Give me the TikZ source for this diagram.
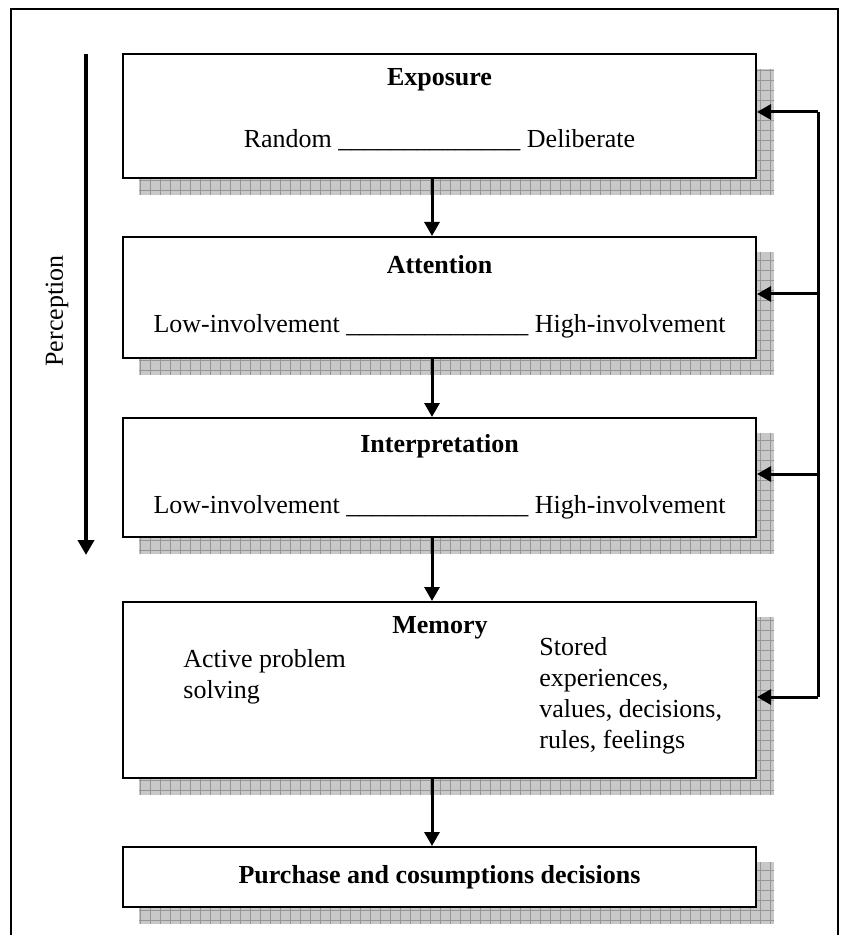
\documentclass[tikz,border=0pt]{standalone}
\usepackage{fontspec}
\setmainfont{Liberation Serif}
\usetikzlibrary{arrows.meta,positioning,calc,backgrounds}
\definecolor{shd}{RGB}{200,200,200}
\definecolor{shdgrid}{RGB}{150,150,150}
\newcommand{\gapline}{\_\_\_\_\_\_\_\_\_\_\_\_\_\_}

\begin{document}
\begin{tikzpicture}[x=0.5pt,y=-0.5pt,
  box/.style={draw=black,line width=1pt,fill=white,minimum width=316.5pt,inner sep=0pt},
  ttl/.style={font=\fontsize{13}{15.5}\selectfont\bfseries,inner sep=0pt},
  txt/.style={font=\fontsize{13}{15.5}\selectfont,inner sep=0pt,align=left},
  a/.style={-{Triangle[length=7pt,width=7.5pt]},line width=1.5pt},
  pa/.style={-{Triangle[length=7.5pt,width=8pt]},line width=2.2pt}]
 \useasboundingbox (0,0) rectangle (842,935);
 \draw[line width=0.8pt] (11,935) -- (11,9) -- (838,9) -- (838,935);
 % boxes
 \node[box,minimum height=62pt] (ex) at (439.5,116) {};
 \node[box,minimum height=60.5pt] (att) at (439.5,297.5) {};
 \node[box,minimum height=59.5pt] (intp) at (439.5,477.5) {};
 \node[box,minimum height=88pt] (mem) at (439.5,690) {};
 \node[box,minimum height=30pt] (pur) at (439.5,877) {};
 % shadows
 \begin{scope}[on background layer]
  \foreach \b in {ex,att,intp,mem,pur}{
   \begin{scope}
    \clip ([xshift=8.5pt,yshift=-8pt]\b.south west) rectangle ([xshift=8.5pt,yshift=-8pt]\b.north east);
    \fill[shd] ([xshift=8.5pt,yshift=-8pt]\b.south west) rectangle ([xshift=8.5pt,yshift=-8pt]\b.north east);
    \draw[shdgrid,line width=0.3pt,step=5pt] ([xshift=8.5pt,yshift=-8pt]\b.south west) grid ([xshift=8.5pt,yshift=-8pt]\b.north east);
   \end{scope}}
 \end{scope}
 % texts
 \node[ttl] (exT) at (439.5,80) {Exposure};
 \node[txt] (exL) at (439.5,140) {Random \gapline{} Deliberate};
 \node[ttl] (attT) at (439.5,265) {Attention};
 \node[txt] (attL) at (439.5,326) {Low-involvement \gapline{} High-involvement};
 \node[ttl] (intpT) at (439.5,446) {Interpretation};
 \node[txt] (intpL) at (439.5,507) {Low-involvement \gapline{} High-involvement};
 \node[ttl] (memT) at (440,628) {Memory};
 \node[txt,anchor=west] (memA) at (183,677) {Active problem\\solving};
 \node[txt,anchor=west] (memS) at (539,696) {Stored\\experiences,\\values, decisions,\\rules, feelings};
 \node[ttl] (purT) at (439.5,877) {Purchase and cosumptions decisions};
 % flow
 \draw[a] ([xshift=-3.75pt]ex.south) -- ([xshift=-3.75pt]att.north);
 \draw[a] ([xshift=-3.75pt]att.south) -- ([xshift=-3.75pt]intp.north);
 \draw[a] ([xshift=-3.75pt]intp.south) -- ([xshift=-3.75pt]mem.north);
 \draw[a] ([xshift=-3.75pt]mem.south) -- ([xshift=-3.75pt]pur.north);
 % feedback
 \coordinate (fb1) at (818,112);
 \coordinate (fb2) at (818,294);
 \coordinate (fb3) at (818,474);
 \coordinate (fb4) at (818,697);
 \draw[line width=1.5pt] (fb1) -- (fb4);
 \draw[a] (fb1) -- (fb1 -| ex.east);
 \draw[a] (fb2) -- (fb2 -| att.east);
 \draw[a] (fb3) -- (fb3 -| intp.east);
 \draw[a] (fb4) -- (fb4 -| mem.east);
 % perception
 \coordinate (pTop) at (86,54);
 \coordinate (pBot) at (86,555);
 \draw[pa] (pTop) -- (pBot);
 \node[txt,rotate=90] (perc) at (57,311) {Perception};
\end{tikzpicture}
\end{document}
